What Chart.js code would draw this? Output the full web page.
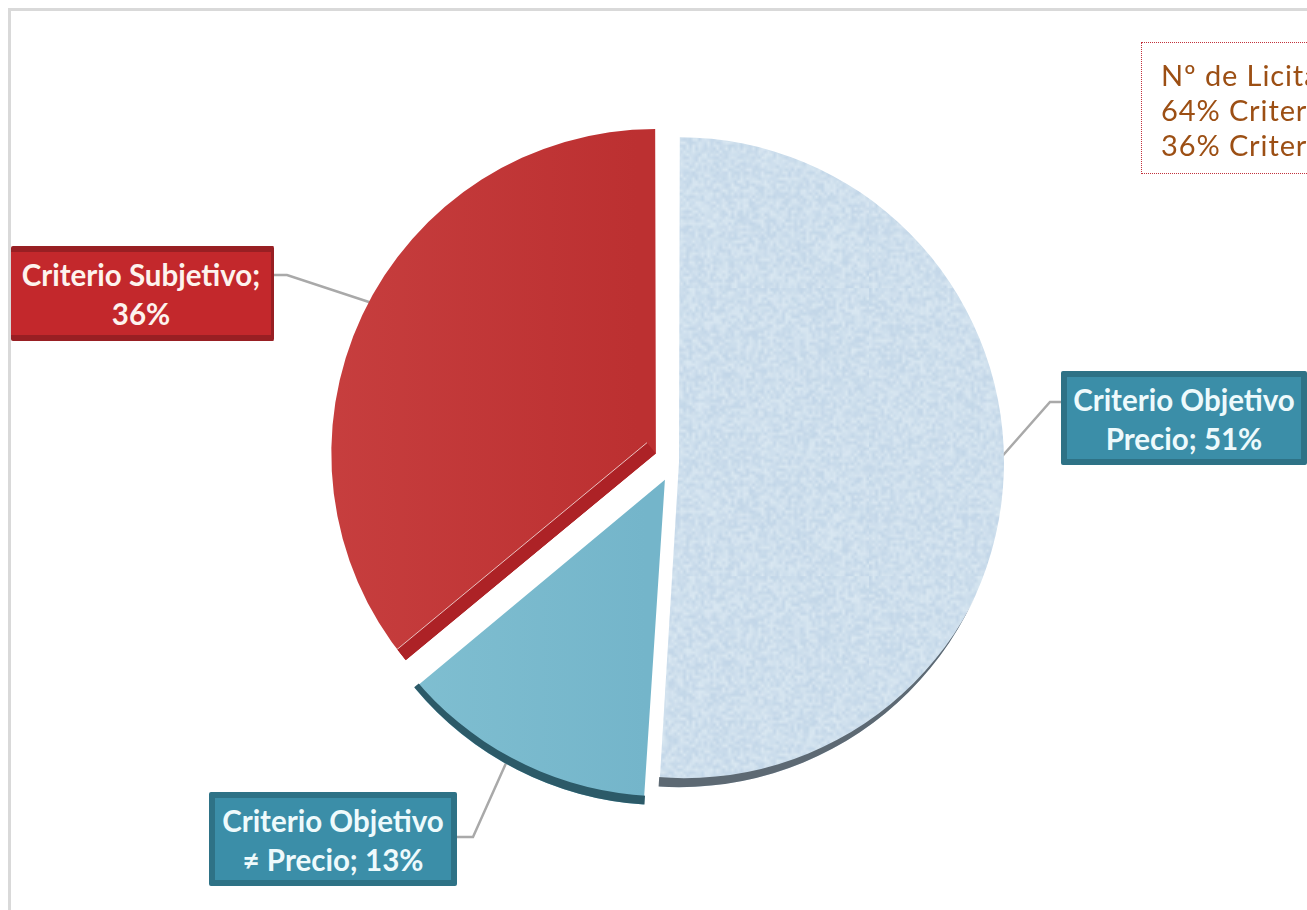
<!DOCTYPE html>
<html lang="es">
<head>
<meta charset="utf-8">
<title>Criterios de adjudicación</title>
<script src="https://cdn.jsdelivr.net/npm/chart.js@4"></script>
<style>
  html, body { margin: 0; padding: 0; background: #fff; width: 1307px; height: 910px; overflow: hidden; }
  #frame { position: absolute; left: 8px; top: 8px; width: 1299px; height: 902px; border-left: 3px solid #d9d9d9; border-top: 3px solid #d9d9d9; box-sizing: border-box; }
  #chart { position: absolute; left: 0; top: 0; }
  .tag { position: absolute; box-sizing: border-box; color: #fdf3ee; font: bold 29.5px/39px Lato, sans-serif; text-align: center; border-radius: 2px; white-space: nowrap; padding-top: 3px; }
  .tag.red { background: #c3282c; border: 6px solid #981f23; border-left-width: 0; border-right-width: 3px; }
  .tag.blue { background: #3b8ea8; border: 6px solid #2e7286; color: #eefafc; }
  #note { position: absolute; left: 1141px; top: 42px; width: 200px; height: 132px; box-sizing: border-box; border: 1px dotted #c2323c; padding: 14px 0 0 19px; color: #9c4f14; font: 29px/35px Lato, sans-serif; letter-spacing: 0.9px; white-space: nowrap; overflow: hidden; }
</style>
</head>
<body>
<div id="frame"></div>
<canvas id="chart" width="1307" height="910"></canvas>
<div id="note"></div>
<div class="tag red" id="tag2" style="left:11px;top:246px;width:263px;height:95px"></div>
<div class="tag blue" id="tag0" style="left:1061px;top:371px;width:246px;height:94px"></div>
<div class="tag blue" id="tag1" style="left:209px;top:792px;width:248px;height:94px"></div>
<script>
// datos
const categories = ["Criterio Objetivo Precio", "Criterio Objetivo ≠ Precio", "Criterio Subjetivo"];
const values = [51, 13, 36];
const tagLines = [
  ["Criterio Objetivo", "Precio; 51%"],
  ["Criterio Objetivo", "≠ Precio; 13%"],
  ["Criterio Subjetivo;", "36%"]
];
const noteLines = ["Nº de Licitaciones", "64% Criterio Objetivo", "36% Criterio Subjetivo"];
const sliceOffsets = [20, 80, 80];

tagLines.forEach((lines, i) => {
  document.getElementById("tag" + i).innerHTML = lines.join("<br>");
});
document.getElementById("note").innerHTML = noteLines.join("<br>");

const canvas = document.getElementById("chart");
const ctx = canvas.getContext("2d");

// textura moteada del sector azul (ruido fijo, no son datos)
function mottledFill() {
  const small = document.createElement("canvas");
  small.width = small.height = 96;
  const s = small.getContext("2d");
  for (let y = 0; y < 96; y++) {
    for (let x = 0; x < 96; x++) {
      const h = Math.sin(x * 12.9898 + y * 78.233) * 43758.5453;
      const n = h - Math.floor(h);
      s.fillStyle = `rgb(${194 + n * 24},${214 + n * 18},${232 + n * 10})`;
      s.fillRect(x, y, 1, 1);
    }
  }
  const tile = document.createElement("canvas");
  tile.width = tile.height = 288;
  const t = tile.getContext("2d");
  t.imageSmoothingEnabled = true;
  t.drawImage(small, 0, 0, 288, 288);
  return ctx.createPattern(tile, "repeat");
}

const redFill = ctx.createLinearGradient(330, 0, 655, 0);
redFill.addColorStop(0, "#c73f3f");
redFill.addColorStop(1, "#bc3031");
const tealFill = ctx.createLinearGradient(400, 0, 655, 0);
tealFill.addColorStop(0, "#80bfd1");
tealFill.addColorStop(1, "#74b5ca");

// geometria real de un sector tras aplicar su offset
function sliceGeometry(el) {
  const off = (el.options.offset || 0) / 4;
  const mid = (el.startAngle + el.endAngle) / 2;
  const fix = 1 - Math.sin(Math.min(Math.PI, el.circumference));
  return {
    x: el.x + Math.cos(mid) * off,
    y: el.y + Math.sin(mid) * off,
    r: el.outerRadius + off * fix,
    a0: el.startAngle,
    a1: el.endAngle
  };
}

function tracePath(c, g) {
  c.moveTo(g.x, g.y);
  c.arc(g.x, g.y, g.r, g.a0, g.a1);
  c.closePath();
}

// canto inferior: la parte del sector que queda fuera del circulo desplazado
function drawRim(g, shiftX, shiftY, color) {
  ctx.save();
  ctx.beginPath();
  tracePath(ctx, g);
  ctx.clip();
  ctx.beginPath();
  ctx.rect(0, 0, canvas.width, canvas.height);
  ctx.moveTo(g.x + shiftX + g.r, g.y + shiftY);
  ctx.arc(g.x + shiftX, g.y + shiftY, g.r, 0, Math.PI * 2);
  ctx.fillStyle = color;
  ctx.fill("evenodd");
  ctx.restore();
}

// banda oscura junto al borde inferior del sector rojo
function drawRedBand(g, width) {
  const dx = Math.cos(g.a0), dy = Math.sin(g.a0);
  const nx = -dy, ny = dx;
  ctx.save();
  ctx.beginPath();
  tracePath(ctx, g);
  ctx.clip();
  ctx.beginPath();
  ctx.moveTo(g.x, g.y);
  ctx.lineTo(g.x + dx * g.r, g.y + dy * g.r);
  ctx.lineTo(g.x + dx * g.r + nx * width, g.y + dy * g.r + ny * width);
  ctx.lineTo(g.x + nx * width, g.y + ny * width);
  ctx.closePath();
  ctx.fillStyle = "#ad2226";
  ctx.fill();
  ctx.beginPath();
  ctx.moveTo(g.x + nx * width, g.y + ny * width);
  ctx.lineTo(g.x + dx * g.r + nx * width, g.y + dy * g.r + ny * width);
  ctx.strokeStyle = "#e9c2c0";
  ctx.lineWidth = 1;
  ctx.stroke();
  ctx.restore();
}

const leaderLines = [
  [[1061, 402], [1050, 402], [998, 461]],
  [[457, 837], [473, 837], [511, 752]],
  [[274, 275], [287, 275], [375, 304]]
];

const sliceDecor = {
  id: "sliceDecor",
  beforeDatasetsDraw() {
    ctx.save();
    ctx.strokeStyle = "#a9a9a9";
    ctx.lineWidth = 2.5;
    leaderLines.forEach(points => {
      ctx.beginPath();
      points.forEach((p, i) => (i ? ctx.lineTo(p[0], p[1]) : ctx.moveTo(p[0], p[1])));
      ctx.stroke();
    });
    ctx.restore();
  },
  afterDatasetsDraw(chart) {
    const arcs = chart.getDatasetMeta(0).data;
    drawRim(sliceGeometry(arcs[0]), 5, -9, "#5d6973");
    drawRim(sliceGeometry(arcs[1]), 0, -9, "#2c5a68");
    drawRedBand(sliceGeometry(arcs[2]), 14);
  }
};

new Chart(ctx, {
  type: "pie",
  data: {
    labels: categories,
    datasets: [{
      data: values,
      backgroundColor: [mottledFill(), tealFill, redFill],
      borderWidth: 0,
      offset: sliceOffsets
    }]
  },
  options: {
    responsive: false,
    animation: false,
    radius: 320,
    layout: { padding: { left: 41, top: 14 } },
    plugins: { legend: { display: false }, tooltip: { enabled: false } }
  },
  plugins: [sliceDecor]
});
</script>
</body>
</html>
